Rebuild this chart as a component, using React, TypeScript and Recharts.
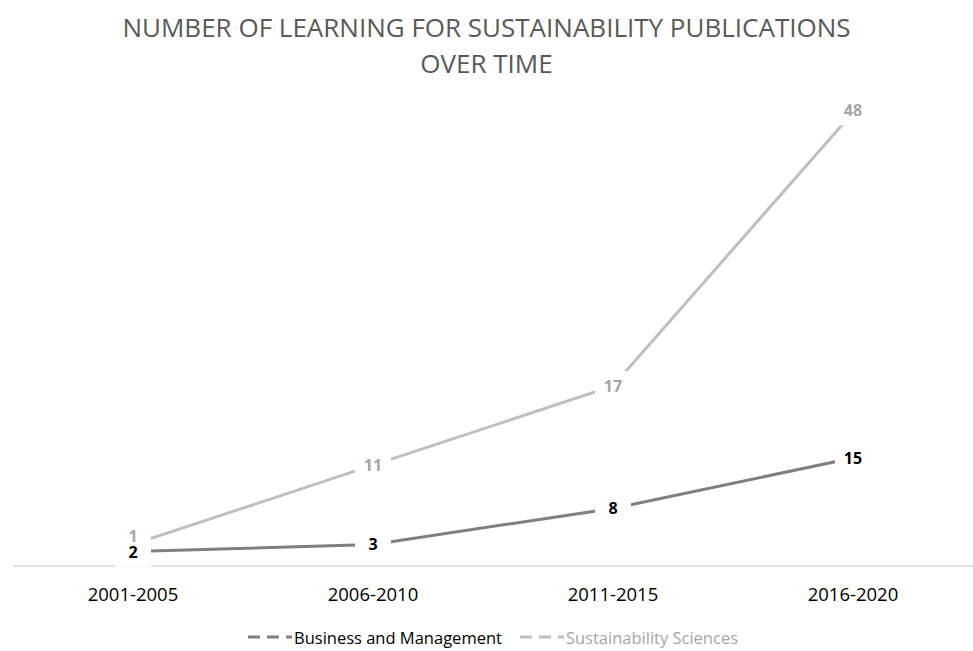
import { Area, AreaChart, Legend, XAxis, YAxis } from "recharts"

const periods = ['2001-2005', '2006-2010', '2011-2015', '2016-2020']
const businessManagement = [2, 3, 8, 15]
const sustainabilitySciences = [1, 11, 17, 48]

const BUSINESS_COLOR = '#7f7f7f'
const SUSTAIN_COLOR = '#bfbfbf'
const FONT = '"Open Sans", sans-serif'

const data = periods.map((p, i) => ({
  period: p,
  business: businessManagement[i],
  sustainability: sustainabilitySciences[i]
}))

// label with a white box behind it so the line stops short of the number
const makeLabel = (values: number[], color: string, dy: number[], boxH: number[]) => (props: any) => {
  const { x, y, index } = props
  const text = String(values[index])
  const oy = dy[index] || 0
  const h = boxH[index] || 30
  return (
    <g>
      <rect x={x - 18} y={y + oy - 15} width={36} height={h} fill='#ffffff' />
      <text
        x={x}
        y={y + oy}
        dy={6}
        textAnchor='middle'
        fill={color}
        style={{ fontFamily: FONT, fontSize: '16px', fontWeight: 700 }}
      >
        {text}
      </text>
    </g>
  )
}

const renderLegend = () => {
  const items = [
    { name: 'Business and Management', stroke: BUSINESS_COLOR, text: '#000000' },
    { name: 'Sustainability Sciences', stroke: SUSTAIN_COLOR, text: '#a6a6a6' }
  ]
  return (
    <div style={{ display: 'flex', justifyContent: 'center', gap: 18, height: 45, paddingTop: 17, boxSizing: 'border-box' }}>
      {items.map((it) => (
        <div key={it.name} style={{ display: 'flex', alignItems: 'center' }}>
          <svg width={44} height={10}>
            <line x1={0} y1={5} x2={44} y2={5} stroke={it.stroke} strokeWidth={3} strokeDasharray='12 7' />
          </svg>
          <span style={{ fontFamily: FONT, fontSize: '16.5px', color: it.text, marginLeft: 2 }}>{it.name}</span>
        </div>
      ))}
    </div>
  )
}

const App = () => {
  return (
    <div style={{ position: 'absolute', left: 0, top: 0, width: 973, height: 651, background: '#ffffff' }}>
      <div
        style={{
          position: 'absolute',
          left: 0,
          top: 9,
          width: 973,
          textAlign: 'center',
          fontFamily: FONT,
          fontSize: '26px',
          lineHeight: '36px',
          color: '#595959',
          zIndex: 1
        }}
      >
        NUMBER OF LEARNING FOR SUSTAINABILITY PUBLICATIONS
        <br />
        OVER TIME
      </div>
      <AreaChart
        width={973}
        height={651}
        data={data}
        margin={{ top: 62, right: 0, bottom: 0, left: 13 }}
      >
        <XAxis
          dataKey='period'
          padding={{ left: 120, right: 120 }}
          height={40}
          axisLine={{ stroke: '#d9d9d9', strokeWidth: 1.5 }}
          tickLine={false}
          tickSize={6}
          tickMargin={16}
          tick={{ fill: '#000000', fontFamily: FONT, fontSize: 18.5 }}
        />
        <YAxis hide domain={[0, 70]} />
        <Legend verticalAlign='bottom' content={renderLegend} />
        <Area
          type='linear'
          dataKey='business'
          stackId='a'
          stroke={BUSINESS_COLOR}
          strokeWidth={3}
          fill='none'
          dot={false}
          activeDot={false}
          isAnimationActive={false}
          label={makeLabel(businessManagement, '#000000', [0, 0, 0, 0], [30, 30, 30, 30])}
        />
        <Area
          type='linear'
          dataKey='sustainability'
          stackId='a'
          stroke={SUSTAIN_COLOR}
          strokeWidth={3}
          fill='none'
          dot={false}
          activeDot={false}
          isAnimationActive={false}
          label={makeLabel(sustainabilitySciences, '#a6a6a6', [-8, 0, 0, -2], [16, 30, 30, 30])}
        />
      </AreaChart>
    </div>
  )
}

export default App
